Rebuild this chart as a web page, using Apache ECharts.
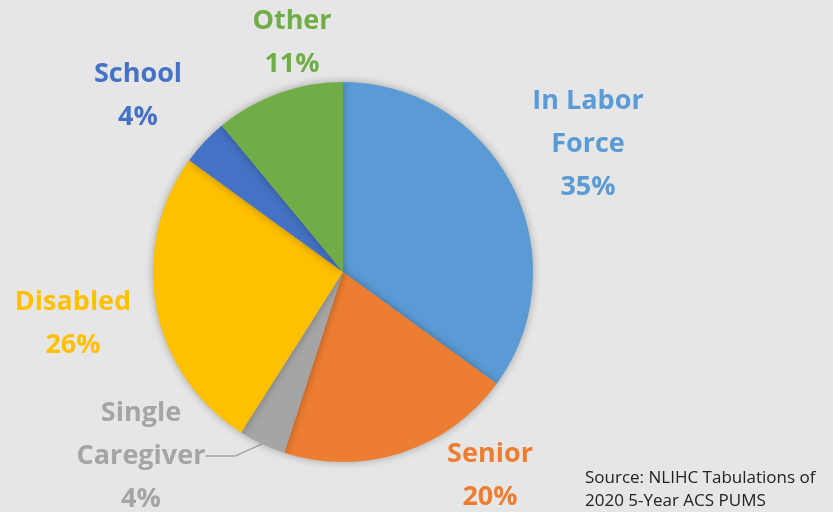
<!DOCTYPE html>
<html>
<head>
<meta charset="utf-8">
<script src="https://cdn.jsdelivr.net/npm/echarts@6/dist/echarts.min.js"></script>
<style>
  html, body { margin: 0; padding: 0; background: #e7e6e6; }
  #chart { width: 833px; height: 512px; }
</style>
</head>
<body>
<div id="chart"></div>
<script>
const categories = ["In Labor\nForce", "Senior", "Single\nCaregiver", "Disabled", "School", "Other"];
const shares = [35, 20, 4, 26, 4, 11];
const colors = ["#5b9bd5", "#ed7d31", "#a5a5a5", "#ffc000", "#4472c4", "#70ad47"];

// where each label sits (centre of its text block)
const labelSpots = [[588, 144], [490, 476], [141, 456], [73, 324], [138, 96], [292, 43]];

const chart = echarts.init(document.getElementById("chart"));

chart.setOption({
    backgroundColor: "#e7e6e6",
    title: {
        text: "Source: NLIHC Tabulations of\n2020 5-Year ACS PUMS",
        left: 580,
        top: 462,
        textStyle: {
            fontFamily: "Open Sans",
            fontSize: 17,
            fontWeight: "normal",
            color: "#222",
            lineHeight: 23,
        },
    },
    series: [
        {
            type: "pie",
            center: [343, 272],
            radius: 190,
            startAngle: 90,
            clockwise: true,
            itemStyle: {
                shadowBlur: 8,
                shadowColor: "rgba(0, 0, 0, 0.3)",
            },
            label: {
                show: true,
                fontFamily: "Open Sans",
                fontWeight: "bold",
                fontSize: 27,
                lineHeight: 43,
                align: "center",
                overflow: "none",
                formatter: (p) => `${p.name}\n${Math.round(p.percent)}%`,
            },
            labelLine: { show: false },
            labelLayout(params) {
                const spot = labelSpots[params.dataIndex];
                return {
                    x: spot[0],
                    y: spot[1],
                    align: "center",
                    verticalAlign: "middle",
                };
            },
            emphasis: { disabled: true },
            data: categories.map((name, i) => ({
                name,
                value: shares[i],
                itemStyle: { color: colors[i] },
                label: { color: colors[i] },
                labelLine: i === 2
                    ? { show: true, lineStyle: { color: "#a5a5a5", width: 1.5 } }
                    : { show: false },
            })),
        },
    ],
});

window.addEventListener("resize", () => chart.resize());
</script>
</body>
</html>
